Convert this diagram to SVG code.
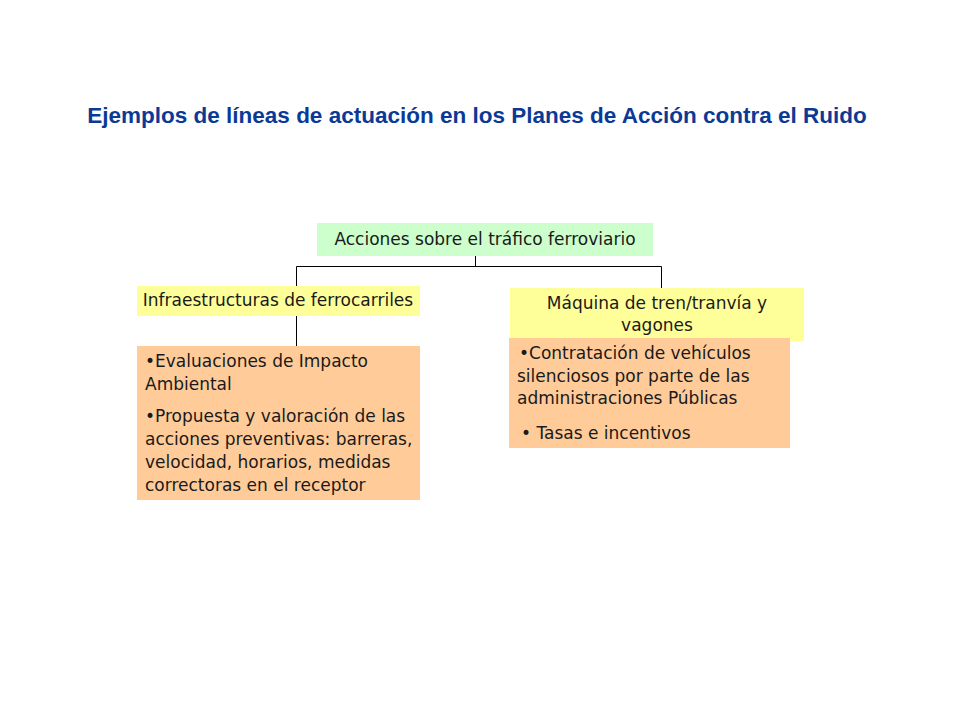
<svg xmlns="http://www.w3.org/2000/svg" width="960" height="720" viewBox="0 0 960 720">
<style>
.t{font-family:"DejaVu Sans","Liberation Sans",sans-serif;fill:#1a1a1a;font-size:17px}
.c{text-anchor:middle}
.title{font-family:"Liberation Sans",Arial,sans-serif;font-weight:bold;font-size:22.5px;fill:#0b3a96}
.ln{stroke:#000;stroke-width:1;fill:none}
</style>
<rect width="960" height="720" fill="#fff"/>
<text class="title" x="477" y="123" text-anchor="middle">Ejemplos de líneas de actuación en los Planes de Acción contra el Ruido</text>
<g id="connectors">
<path class="ln" d="M475.5 256V266.5M296.5 266.5H661.5M296.5 266.5V286M661.5 266.5V288M296.5 316V346"/>
</g>
<g id="root">
<rect x="317" y="223" width="336" height="33" fill="#ccffcc"/>
<text class="t c" x="485" y="245">Acciones sobre el tráfico ferroviario</text>
</g>
<g id="infra">
<rect x="137" y="286" width="283" height="30" fill="#ffff99"/>
<text class="t c" x="278" y="306">Infraestructuras de ferrocarriles</text>
</g>
<g id="maquina">
<rect x="510" y="288" width="294" height="53" fill="#ffff99"/>
<text class="t c" x="657" y="309">Máquina de tren/tranvía y</text>
<text class="t c" x="657" y="331">vagones</text>
</g>
<g id="infra-acciones">
<rect x="137" y="346" width="283" height="154" fill="#ffcc99"/>
<text class="t" x="145" y="367">•Evaluaciones de Impacto</text>
<text class="t" x="145" y="390">Ambiental</text>
<text class="t" x="145" y="422">•Propuesta y valoración de las</text>
<text class="t" x="145" y="445">acciones preventivas: barreras,</text>
<text class="t" x="145" y="468">velocidad, horarios, medidas</text>
<text class="t" x="145" y="491">correctoras en el receptor</text>
</g>
<g id="maquina-acciones">
<rect x="509" y="338" width="281" height="110" fill="#ffcc99"/>
<text class="t" x="519" y="359">•Contratación de vehículos</text>
<text class="t" x="517" y="382">silenciosos por parte de las</text>
<text class="t" x="517" y="404">administraciones Públicas</text>
<text class="t" x="521" y="439">•  Tasas e incentivos</text>
</g>
</svg>
